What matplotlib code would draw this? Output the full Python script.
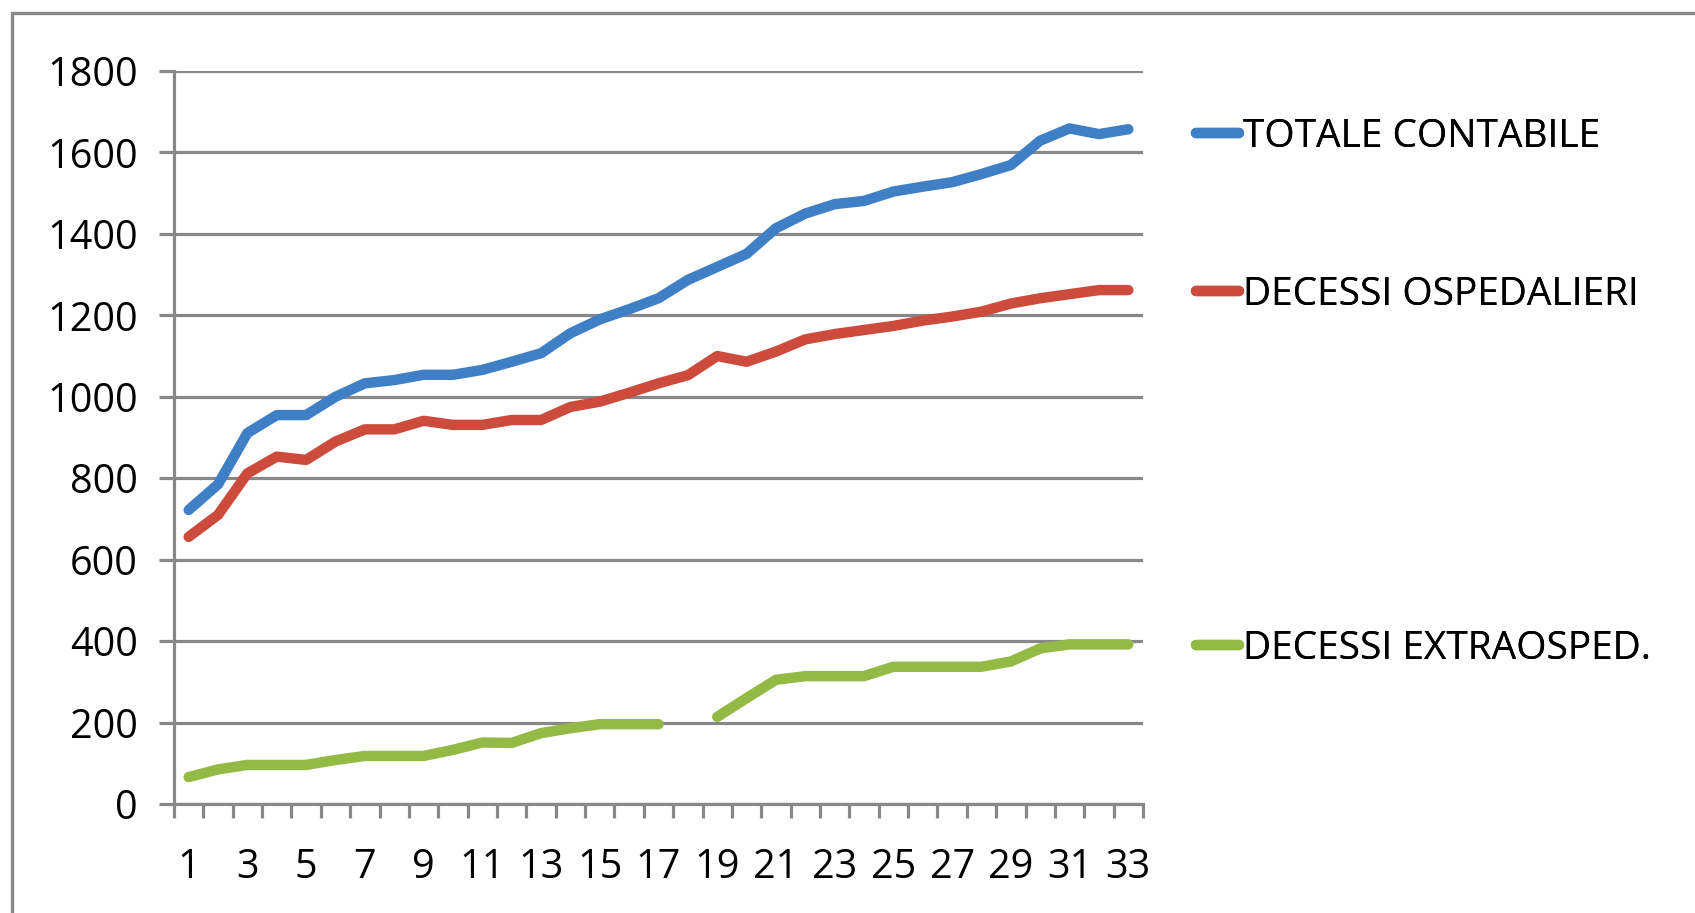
### Andamento decessi: totale contabile, ospedalieri, extraospedalieri
import numpy as np
import matplotlib.pyplot as plt
from matplotlib.lines import Line2D
from matplotlib.patches import Rectangle
from matplotlib.ticker import MultipleLocator, FixedLocator

### Data
giorni = list(range(1, 34))

totale_contabile = [722, 785, 911, 955, 955, 1000, 1033, 1041, 1054, 1054, 1066,
                    1086, 1107, 1156, 1190, 1215, 1242, 1287, 1319, 1351, 1414,
                    1450, 1473, 1481, 1504, 1516, 1527, 1547, 1569, 1629, 1659,
                    1645, 1657]

decessi_ospedalieri = [656, 710, 812, 853, 845, 890, 920, 920, 941, 931, 931,
                       943, 943, 975, 988, 1010, 1033, 1053, 1100, 1086, 1111,
                       1141, 1154, 1164, 1174, 1187, 1197, 1209, 1229, 1242, 1252,
                       1262, 1262]

# day 18 has no value for the out-of-hospital series
decessi_extraosped = [66, 85, 96, 96, 96, 108, 118, 118, 118, 133, 151,
                      150, 174, 186, 196, 196, 196, np.nan, 214, 260, 305,
                      314, 314, 314, 337, 337, 337, 337, 350, 382, 392,
                      392, 392]

serie_nomi = ['TOTALE CONTABILE', 'DECESSI OSPEDALIERI', 'DECESSI EXTRAOSPED.']
serie_colori = ['#3F7FC6', '#CD4B3C', '#93BA45']

### Style
plt.rcParams['font.family'] = ['Open Sans', 'DejaVu Sans']
GRID_COL = '#888888'

W, H, DPI = 1695, 913, 100
fig = plt.figure(figsize=(W / DPI, H / DPI), dpi=DPI)
fig.patch.set_facecolor('white')

# outer chart frame (only top and left edges fall inside the picture)
fig.patches.append(Rectangle((12 / W, -0.1), 1.2, 1 - 13 / H + 0.1,
                             transform=fig.transFigure, fill=False,
                             edgecolor='#8a8a8a', linewidth=2.4))

ax = fig.add_axes([174 / W, 1 - 804 / H, (1143 - 174) / W, (804 - 71) / H])

series = [totale_contabile, decessi_ospedalieri, decessi_extraosped]
for vals, nome, col in zip(series, serie_nomi, serie_colori):
    ax.plot(giorni, vals, color=col, linewidth=7.5, solid_capstyle='round',
            solid_joinstyle='round', label=nome, zorder=3)

ax.set_xlim(0.5, 33.5)
ax.set_ylim(0, 1800)

# y axis
ax.yaxis.set_major_locator(MultipleLocator(200))
ax.yaxis.grid(True, color=GRID_COL, linewidth=2.3)
ax.set_axisbelow(True)

# x axis: tick marks between categories, labels on odd days
ax.xaxis.set_major_locator(FixedLocator(giorni[::2]))
ax.xaxis.set_minor_locator(FixedLocator(np.arange(0.5, 34, 1)))
ax.tick_params(axis='x', which='major', length=0, pad=31, labelsize=28.5)
ax.tick_params(axis='x', which='minor', length=10, width=2.3, color=GRID_COL,
               direction='out')
ax.tick_params(axis='y', which='major', length=11, width=2.3, color=GRID_COL,
               direction='out', pad=15, labelsize=28.5)

for s in ['top', 'right']:
    ax.spines[s].set_visible(False)
for s in ['left', 'bottom']:
    ax.spines[s].set_color(GRID_COL)
    ax.spines[s].set_linewidth(2.3)

### Legend: one entry per row at the Excel-like spacing
legend_y = [137, 295, 649]
for nome, col, ly in zip(serie_nomi, serie_colori, legend_y):
    h = Line2D([], [], color=col, linewidth=7.5, solid_capstyle='round')
    lg = fig.legend([h], [nome], loc='center left',
                    bbox_to_anchor=(1196 / W, 1 - ly / H), frameon=False,
                    fontsize=28, handlelength=1.1, handletextpad=0.12,
                    borderpad=0, borderaxespad=0)
    fig.add_artist(lg)

fig.savefig('out.png', dpi=DPI, facecolor='white')
